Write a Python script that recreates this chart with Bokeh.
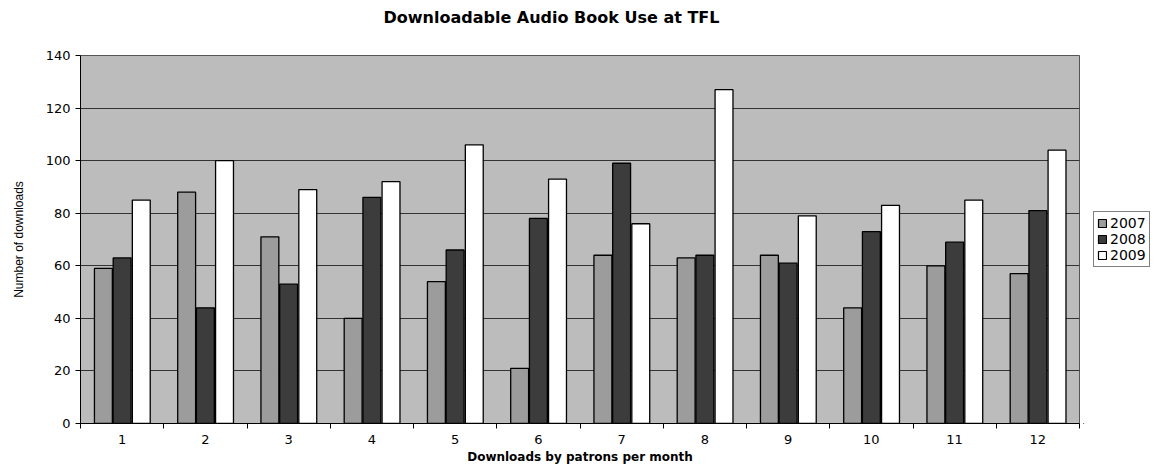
from bokeh.plotting import figure
from bokeh.layouts import row
from bokeh.models import FixedTicker, Legend, LegendItem, Range1d, Title, ColumnDataSource
from bokeh.embed import file_html
from bokeh.resources import INLINE

months = [1, 2, 3, 4, 5, 6, 7, 8, 9, 10, 11, 12]
month_labels = [str(m) for m in months]
years = ["2007", "2008", "2009"]
y2007 = [59, 88, 71, 40, 54, 21, 64, 63, 64, 44, 60, 57]
y2008 = [63, 44, 53, 86, 66, 78, 99, 64, 61, 73, 69, 81]
y2009 = [85, 100, 89, 92, 106, 93, 76, 127, 79, 83, 85, 104]
y_ticks = [0, 20, 40, 60, 80, 100, 120, 140]

series = [y2007, y2008, y2009]
colors = ["#9c9c9c", "#3c3c3c", "#ffffff"]
offsets = [-0.225, 0.0, 0.23]

H = 466
p = figure(width=1083, height=H, output_backend="svg", toolbar_location=None,
           x_range=Range1d(0.5, 12.5), y_range=Range1d(0, 140),
           min_border_left=80, min_border_right=4, min_border_top=53, min_border_bottom=42)

p.border_fill_color = "#ffffff"
p.background_fill_color = "#bcbcbc"
p.outline_line_color = "#555555"
p.outline_line_width = 1

for vals, col, off in zip(series, colors, offsets):
    src = ColumnDataSource(dict(x=[m + off for m in months], top=vals))
    p.vbar(x="x", top="top", bottom=0, width=0.215, source=src,
           fill_color=col, line_color="#000000", line_width=1.3)

# axes
p.xaxis.ticker = FixedTicker(ticks=months, minor_ticks=[m + 0.5 for m in [0] + months])
p.xaxis.major_label_overrides = {m: lbl for m, lbl in zip(months, month_labels)}
p.xaxis.major_tick_line_color = None
p.xaxis.minor_tick_line_color = "#000000"
p.xaxis.minor_tick_out = 5
p.xaxis.minor_tick_in = 0
p.xaxis.axis_line_color = "#000000"
p.xaxis.major_label_text_font = "DejaVu Sans"
p.xaxis.major_label_text_font_size = "13px"
p.xaxis.major_label_text_color = "#000000"
p.xaxis.major_label_standoff = 5
p.xaxis.axis_label = "Downloads by patrons per month"
p.xaxis.axis_label_text_font = "DejaVu Sans"
p.xaxis.axis_label_text_font_style = "bold"
p.xaxis.axis_label_text_font_size = "12px"
p.xaxis.axis_label_text_color = "#000000"
p.xaxis.axis_label_standoff = 3

p.yaxis.ticker = FixedTicker(ticks=y_ticks, minor_ticks=[])
p.yaxis.major_tick_out = 5
p.yaxis.major_tick_in = 0
p.yaxis.major_tick_line_color = "#000000"
p.yaxis.axis_line_color = "#000000"
p.yaxis.major_label_text_font = "DejaVu Sans"
p.yaxis.major_label_text_font_size = "13px"
p.yaxis.major_label_text_color = "#000000"
p.yaxis.major_label_standoff = 5
p.yaxis.axis_label = "Number of downloads"
p.yaxis.axis_label_text_font = "Liberation Sans"
p.yaxis.axis_label_text_font_style = "normal"
p.yaxis.axis_label_text_font_size = "12px"
p.yaxis.axis_label_text_color = "#000000"
p.yaxis.axis_label_standoff = 17

p.xgrid.grid_line_color = None
p.ygrid.ticker = FixedTicker(ticks=y_ticks)
p.ygrid.grid_line_color = "#333333"
p.ygrid.grid_line_width = 1

spacer = Title(text=" ", text_font_size="20px", standoff=0)
p.add_layout(spacer, "above")
title = Title(text="Downloadable Audio Book Use at TFL", align="left", offset=303,
              text_font="DejaVu Sans", text_font_style="bold", text_font_size="16px",
              text_color="#000000")
p.add_layout(title, "above")

# legend panel
lg = figure(width=67, height=H, output_backend="svg", toolbar_location=None,
            x_range=Range1d(0, 1), y_range=Range1d(0, 1),
            min_border_left=0, min_border_right=0, min_border_top=0, min_border_bottom=0)
lg.axis.visible = False
lg.grid.visible = False
lg.outline_line_color = None
lg.background_fill_color = "#ffffff"
lg.border_fill_color = "#ffffff"
dummies = []
for col in colors:
    r = lg.vbar(x=[-10], top=[-5], bottom=[-6], width=0.1,
                fill_color=col, line_color="#000000", line_width=1.2)
    dummies.append(r)

legend = Legend(items=[LegendItem(label=y, renderers=[r]) for y, r in zip(years, dummies)],
                location=(10, 156), border_line_color="#000000", border_line_width=1,
                background_fill_color="#ffffff", background_fill_alpha=1.0,
                label_text_font="DejaVu Sans", label_text_color="#000000",
                label_text_font_size="14px", glyph_width=10, glyph_height=10,
                label_standoff=3, spacing=0, padding=3, margin=0,
                label_height=14)
lg.add_layout(legend, "center")

layout = row(p, lg, spacing=0)
open("out.html", "w").write(file_html(layout, INLINE))
